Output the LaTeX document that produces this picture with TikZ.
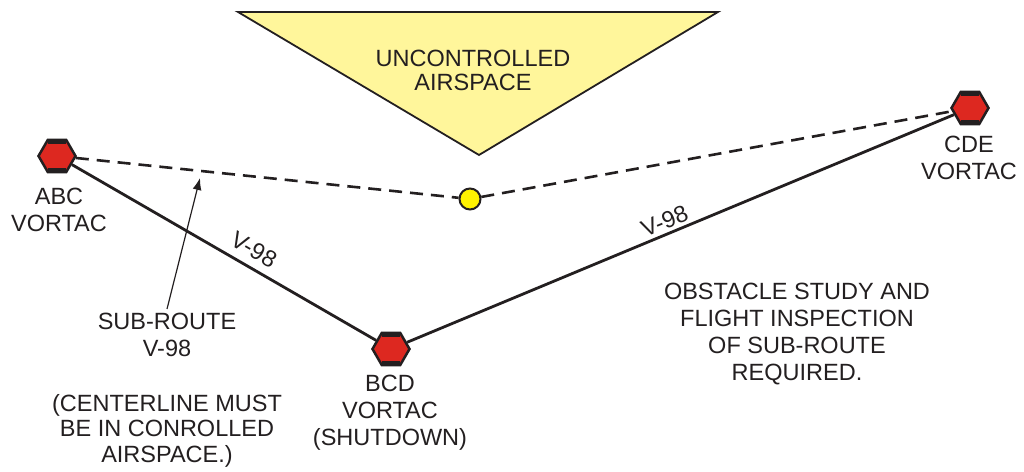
\documentclass[tikz,border=0pt]{standalone}
\usepackage{fontspec}
\setmainfont{Liberation Sans}
\usepackage{tikz}
\usetikzlibrary{calc, shapes.geometric, arrows.meta}
\definecolor{ink}{RGB}{35,31,32}
\definecolor{vorred}{RGB}{221,40,32}
\definecolor{gapyellow}{RGB}{255,242,0}
\definecolor{airyellow}{RGB}{255,246,155}
\tikzset{>=latex}
\tikzset{
  lbl/.style = {font=\fontsize{23.5bp}{27bp}\selectfont, text=ink, align=center, inner sep=0pt},
  vortac/.style = {regular polygon, regular polygon sides=6, minimum size=37bp, inner sep=0pt,
    draw=ink, line width=2.5bp, fill=vorred},
  bar/.style = {ink, line width=5bp},
  route/.style = {ink, line width=2.8bp},
  subroute/.style = {ink, line width=2.6bp, dash pattern=on 13bp off 8bp}
}

\begin{document}
\begin{tikzpicture}[x=1bp, y=1bp]
\useasboundingbox (0,0) rectangle (1024,472);
\draw[ink, line width = 1.8bp, fill = airyellow] (238,460) -- (718,460) -- (479,317) -- cycle;
\node[lbl, anchor = north, font=\fontsize{23.5bp}{23.5bp}\selectfont] (air) at (473,422) {UNCONTROLLED\\AIRSPACE};
\node[vortac] (abc) at (57,316) {};
\node[vortac] (bcd) at (391,123) {};
\node[vortac] (cde) at (970,364) {};
\node[circle, draw = ink, line width = 2bp, fill = gapyellow, minimum size = 21bp, inner sep = 0pt] (gap) at (470,273) {};
\foreach \v in {abc, bcd, cde} {
  \draw[bar] ([shift={(-9.25,14.8)}]\v.center) -- ++(18.5,0);
  \draw[bar] ([shift={(-9.25,-14.8)}]\v.center) -- ++(18.5,0);
}
\draw[subroute] (abc) -- (gap) -- (cde);
\draw[route] (abc) -- node[pos = 0.57, sloped, above, lbl, outer sep = 9bp] {V-98} (bcd);
\draw[route] (bcd) -- node[pos = 0.48, sloped, above, lbl, outer sep = 4.5bp] {V-98} (cde);
\node[lbl, anchor = north] (abclbl) at (59,284) {ABC\\VORTAC};
\node[lbl, anchor = north] (bcdlbl) at (390,97) {BCD\\VORTAC\\(SHUTDOWN)};
\node[lbl, anchor = north] (cdelbl) at (969,336) {CDE\\VORTAC};
\node[lbl, anchor = north] (sublbl) at (167,159) {SUB-ROUTE\\V-98};
\node[lbl, anchor = north, font=\fontsize{23.5bp}{25.5bp}\selectfont] (notelbl) at (167,78) {(CENTERLINE MUST\\BE IN CONROLLED\\AIRSPACE.)};
\node[lbl, anchor = north] (obslbl) at (797,189) {OBSTACLE STUDY AND\\FLIGHT INSPECTION\\OF SUB-ROUTE\\REQUIRED.};
\coordinate (subtip) at (200,294);
\draw[ink, line width = 1.2bp, -{Latex[length=12bp, width=9bp]}] ([yshift=4bp]sublbl.north) -- (subtip);
\end{tikzpicture}
\end{document}
